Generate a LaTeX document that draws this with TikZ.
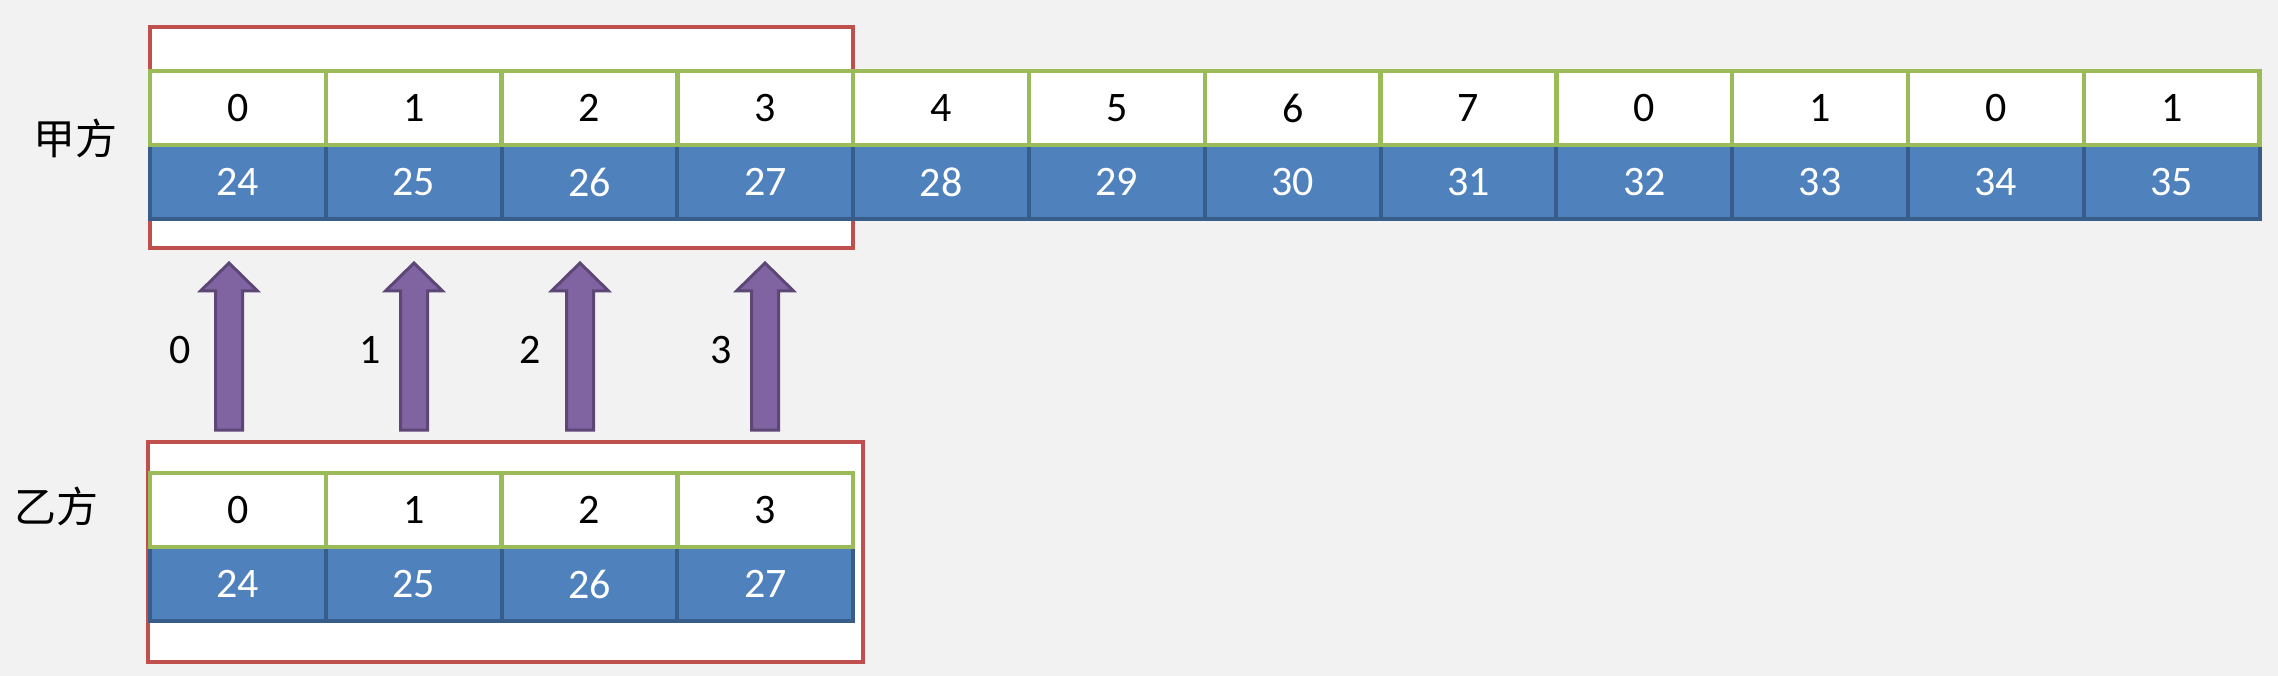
\documentclass[tikz,border=0pt]{standalone}
\usepackage{fontspec}
\setmainfont{Carlito}
\newfontfamily\cjk{Noto Sans CJK SC}
\definecolor{bgc}{HTML}{F2F2F2}
\definecolor{redc}{HTML}{C0504D}
\definecolor{greenc}{HTML}{9BBB59}
\definecolor{bluec}{HTML}{4F81BD}
\definecolor{bluedark}{HTML}{385D8A}
\definecolor{purplec}{HTML}{8064A2}
\definecolor{purpledark}{HTML}{5C4776}
\tikzset{
  redbox/.style={draw=redc, fill=white, line width=4pt},
  greencell/.style={draw=greenc, fill=white, line width=4.5pt, minimum width=175.8pt, minimum height=74pt, inner sep=0pt, text=black, font=\fontsize{42}{50}\selectfont},
  bluecell/.style={draw=bluedark, fill=bluec, line width=4pt, minimum width=175.8pt, minimum height=74pt, inner sep=0pt, text=white, font=\fontsize{42}{50}\selectfont},
  blockarrow/.style={fill=purplec, draw=purpledark, line width=3pt, line join=miter},
  numlabel/.style={inner sep=0pt, text=black, font=\fontsize{42}{50}\selectfont},
  sidelabel/.style={inner sep=0pt, text=black, font=\cjk\fontsize{42}{50}\selectfont},
}
\begin{document}
\begin{tikzpicture}[x=1pt,y=-1pt]
\useasboundingbox[fill=bgc] (0,0) rectangle (2278,676);
% red frames
\draw[redbox] (150,27) rectangle (853,248);
\draw[redbox] (148,442) rectangle (863,662);
% top rows
\foreach \v [count=\i from 0] in {24,25,26,27,28,29,30,31,32,33,34,35}{
  \node[bluecell] (tb\i) at ({150+175.8*\i+87.9},182) {\v};
}
\foreach \v [count=\i from 0] in {0,1,2,3,4,5,6,7,0,1,0,1}{
  \node[greencell] (tg\i) at ({150+175.8*\i+87.9},108) {\v};
}
% bottom rows
\foreach \v [count=\i from 0] in {24,25,26,27}{
  \node[bluecell] (bb\i) at ({150+175.8*\i+87.9},584) {\v};
}
\foreach \v [count=\i from 0] in {0,1,2,3}{
  \node[greencell] (bg\i) at ({150+175.8*\i+87.9},510) {\v};
}
% side labels
\node[sidelabel] (jia) at (75,138) {甲方};
\node[sidelabel] (yi) at (56,506) {乙方};
% block arrows
\foreach \cx/\lx/\t [count=\k from 0] in {229/180/0,414/370/1,580/530/2,765/721/3}{
  \draw[blockarrow] (\cx-13.5,430) -- (\cx-13.5,291) -- (\cx-28.5,291) -- (\cx,263)
     -- (\cx+28.5,291) -- (\cx+13.5,291) -- (\cx+13.5,430) -- cycle;
  \node[numlabel] (al\k) at (\lx,350) {\t};
}
\end{tikzpicture}
\end{document}
